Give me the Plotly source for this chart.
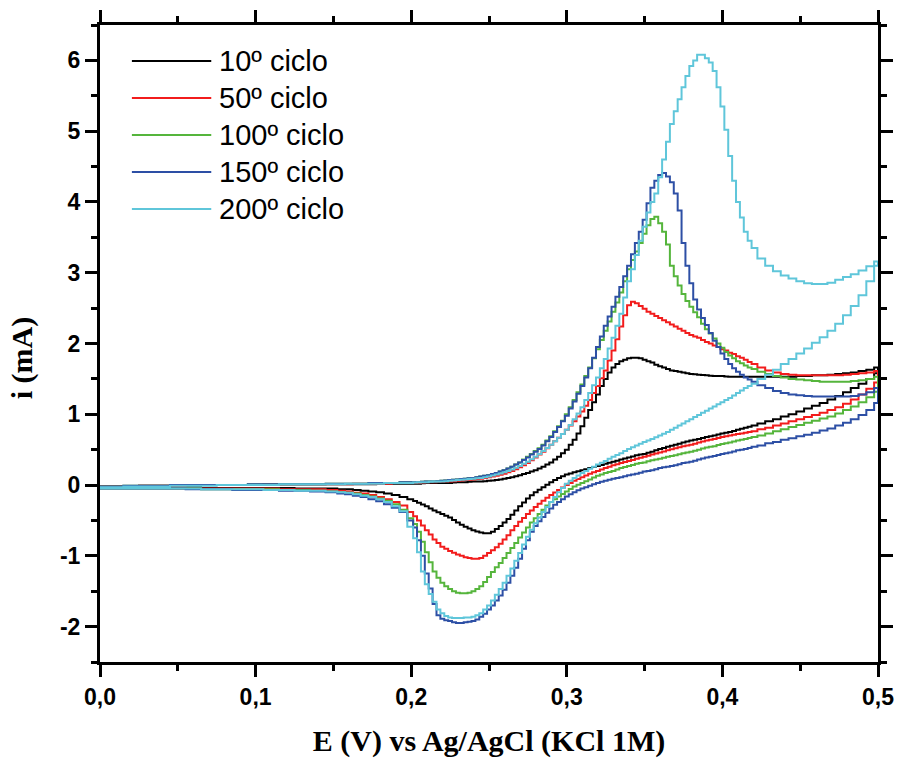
import plotly.graph_objects as go

# Potential grid (V vs Ag/AgCl) on which both scan branches are sampled;
# finer spacing across the reduction and oxidation peaks
E = [0.00, 0.01, 0.02, 0.03, 0.04, 0.05, 0.06, 0.07, 0.08, 0.09, 0.10, 0.11, 0.12, 0.13, 0.14, 0.15,
     0.155, 0.16, 0.165, 0.17, 0.175, 0.18, 0.185, 0.19, 0.195,
     0.20, 0.2025, 0.205, 0.2075, 0.21, 0.2125, 0.215, 0.2175, 0.22, 0.2225,
     0.225, 0.2275, 0.23, 0.2325, 0.235, 0.2375, 0.24, 0.2425, 0.245, 0.2475,
     0.25, 0.2525, 0.255, 0.2575, 0.26, 0.2625, 0.265, 0.2675, 0.27, 0.2725,
     0.275, 0.2775, 0.28, 0.2825, 0.285, 0.2875, 0.29, 0.2925, 0.295, 0.2975, 0.30,
     0.3025, 0.305, 0.3075, 0.31, 0.3125, 0.315, 0.3175, 0.32, 0.3225, 0.325, 0.3275, 0.33,
     0.3325, 0.335, 0.3375, 0.34, 0.3425, 0.345, 0.3475, 0.35, 0.3525, 0.355, 0.3575, 0.36,
     0.3625, 0.365, 0.3675, 0.37, 0.3725, 0.375, 0.3775, 0.38, 0.3825, 0.385, 0.3875, 0.39,
     0.3925, 0.395, 0.3975, 0.40, 0.4025, 0.405, 0.4075, 0.41, 0.4125, 0.415, 0.4175, 0.42,
     0.425, 0.43, 0.435, 0.44, 0.445, 0.45, 0.455, 0.46, 0.465, 0.47, 0.475, 0.48, 0.485, 0.49, 0.495, 0.50]

# Current (mA): anodic sweep (fwd) and return sweep (rev), listed in order of E
fwd_10 = [-0.02, -0.02, -0.02, -0.01, -0.01, -0.01, -0.01, 0.00, 0.00, 0.00, 0.00, 0.00, 0.01, 0.01, 0.01, 0.01,
          0.01, 0.01, 0.01, 0.01, 0.01, 0.02, 0.02, 0.02, 0.02,
          0.02, 0.02, 0.02, 0.025, 0.03, 0.03, 0.03, 0.03, 0.03, 0.03,
          0.03, 0.035, 0.04, 0.04, 0.04, 0.045, 0.05, 0.05, 0.05, 0.055,
          0.06, 0.065, 0.07, 0.08, 0.09, 0.10, 0.11, 0.125, 0.14, 0.155,
          0.17, 0.19, 0.21, 0.235, 0.26, 0.29, 0.32, 0.36, 0.40, 0.45, 0.50,
          0.57, 0.64, 0.73, 0.83, 0.95, 1.06, 1.17, 1.28, 1.40, 1.50, 1.59, 1.66,
          1.71, 1.75, 1.77, 1.79, 1.80, 1.80, 1.79, 1.77, 1.75, 1.73, 1.70, 1.68,
          1.66, 1.64, 1.62, 1.61, 1.60, 1.59, 1.58, 1.57, 1.565, 1.56, 1.555, 1.55,
          1.545, 1.54, 1.54, 1.54, 1.535, 1.53, 1.53, 1.53, 1.53, 1.53, 1.53, 1.53,
          1.53, 1.53, 1.53, 1.53, 1.53, 1.54, 1.54, 1.55, 1.55, 1.56, 1.57, 1.58, 1.59, 1.61, 1.63, 1.66]
rev_10 = [-0.04, -0.04, -0.04, -0.04, -0.04, -0.04, -0.04, -0.04, -0.04, -0.04, -0.04, -0.04, -0.04, -0.05, -0.05, -0.05,
          -0.06, -0.06, -0.07, -0.08, -0.09, -0.10, -0.12, -0.14, -0.17,
          -0.20, -0.225, -0.25, -0.275, -0.30, -0.33, -0.36, -0.385, -0.41, -0.435,
          -0.46, -0.495, -0.53, -0.56, -0.59, -0.615, -0.64, -0.655, -0.67, -0.68,
          -0.68, -0.66, -0.62, -0.58, -0.53, -0.48, -0.42, -0.36, -0.30, -0.245,
          -0.19, -0.145, -0.10, -0.065, -0.03, 0.005, 0.04, 0.07, 0.10, 0.125, 0.15,
          0.165, 0.18, 0.195, 0.21, 0.225, 0.24, 0.255, 0.27, 0.285, 0.30, 0.315, 0.33,
          0.345, 0.36, 0.375, 0.39, 0.405, 0.42, 0.43, 0.44, 0.455, 0.47, 0.49, 0.51,
          0.525, 0.54, 0.555, 0.57, 0.585, 0.60, 0.615, 0.63, 0.64, 0.65, 0.665, 0.68,
          0.69, 0.70, 0.715, 0.73, 0.74, 0.75, 0.765, 0.78, 0.795, 0.81, 0.825, 0.84,
          0.87, 0.90, 0.93, 0.97, 1.00, 1.04, 1.08, 1.12, 1.16, 1.21, 1.26, 1.31, 1.37, 1.43, 1.50, 1.58]

fwd_50 = [-0.02, -0.02, -0.02, -0.01, -0.01, -0.01, 0.00, 0.00, 0.00, 0.00, 0.00, 0.01, 0.01, 0.01, 0.01, 0.01,
          0.01, 0.01, 0.02, 0.02, 0.02, 0.02, 0.02, 0.03, 0.03,
          0.03, 0.03, 0.03, 0.035, 0.04, 0.04, 0.04, 0.045, 0.05, 0.05,
          0.05, 0.055, 0.06, 0.065, 0.07, 0.075, 0.08, 0.085, 0.09, 0.10,
          0.11, 0.12, 0.13, 0.145, 0.16, 0.18, 0.20, 0.225, 0.25, 0.28,
          0.31, 0.35, 0.39, 0.43, 0.47, 0.52, 0.57, 0.62, 0.67, 0.72, 0.78,
          0.84, 0.90, 0.97, 1.04, 1.12, 1.20, 1.30, 1.40, 1.51, 1.62, 1.76, 1.90,
          2.06, 2.24, 2.40, 2.54, 2.59, 2.57, 2.53, 2.49, 2.45, 2.42, 2.39, 2.36,
          2.33, 2.30, 2.27, 2.24, 2.21, 2.18, 2.15, 2.12, 2.10, 2.08, 2.05, 2.02,
          2.00, 1.97, 1.95, 1.92, 1.90, 1.87, 1.85, 1.82, 1.80, 1.77, 1.74, 1.71,
          1.66, 1.62, 1.59, 1.57, 1.56, 1.55, 1.55, 1.55, 1.55, 1.55, 1.55, 1.56, 1.57, 1.58, 1.59, 1.61]
rev_50 = [-0.05, -0.05, -0.05, -0.05, -0.05, -0.05, -0.05, -0.05, -0.05, -0.05, -0.05, -0.05, -0.06, -0.06, -0.06, -0.07,
          -0.08, -0.09, -0.11, -0.12, -0.14, -0.17, -0.20, -0.24, -0.29,
          -0.38, -0.44, -0.50, -0.57, -0.64, -0.70, -0.77, -0.82, -0.87, -0.90,
          -0.93, -0.955, -0.98, -1.00, -1.02, -1.03, -1.04, -1.04, -1.03, -1.00,
          -0.96, -0.92, -0.88, -0.83, -0.77, -0.71, -0.64, -0.58, -0.52, -0.465,
          -0.41, -0.36, -0.31, -0.265, -0.22, -0.18, -0.14, -0.105, -0.07, -0.035, 0.00,
          0.03, 0.06, 0.085, 0.11, 0.135, 0.16, 0.18, 0.20, 0.22, 0.24, 0.26, 0.28,
          0.295, 0.31, 0.325, 0.34, 0.355, 0.37, 0.385, 0.40, 0.415, 0.43, 0.445, 0.46,
          0.475, 0.49, 0.505, 0.52, 0.535, 0.55, 0.56, 0.57, 0.585, 0.60, 0.615, 0.63,
          0.64, 0.65, 0.665, 0.68, 0.69, 0.70, 0.71, 0.72, 0.73, 0.74, 0.75, 0.76,
          0.79, 0.81, 0.84, 0.87, 0.90, 0.93, 0.96, 0.99, 1.02, 1.06, 1.10, 1.15, 1.21, 1.28, 1.36, 1.45]

fwd_100 = [-0.02, -0.02, -0.01, -0.01, -0.01, 0.00, 0.00, 0.00, 0.00, 0.00, 0.01, 0.01, 0.01, 0.01, 0.01, 0.02,
           0.02, 0.02, 0.02, 0.02, 0.03, 0.03, 0.03, 0.03, 0.04,
           0.04, 0.04, 0.04, 0.045, 0.05, 0.05, 0.05, 0.055, 0.06, 0.065,
           0.07, 0.075, 0.08, 0.085, 0.09, 0.095, 0.10, 0.11, 0.12, 0.13,
           0.14, 0.155, 0.17, 0.19, 0.21, 0.235, 0.26, 0.29, 0.32, 0.36,
           0.40, 0.44, 0.48, 0.52, 0.57, 0.63, 0.69, 0.76, 0.83, 0.91, 1.00,
           1.10, 1.20, 1.31, 1.42, 1.54, 1.66, 1.79, 1.92, 2.05, 2.18, 2.31, 2.45,
           2.58, 2.72, 2.88, 3.05, 3.18, 3.30, 3.42, 3.55, 3.67, 3.76, 3.79, 3.70,
           3.58, 3.40, 3.10, 2.95, 2.82, 2.70, 2.60, 2.52, 2.44, 2.37, 2.28, 2.20,
           2.14, 2.07, 2.00, 1.94, 1.88, 1.83, 1.79, 1.75, 1.72, 1.69, 1.66, 1.64,
           1.60, 1.57, 1.54, 1.52, 1.50, 1.49, 1.48, 1.47, 1.46, 1.46, 1.46, 1.46, 1.47, 1.48, 1.50, 1.53]
rev_100 = [-0.05, -0.05, -0.05, -0.05, -0.05, -0.05, -0.05, -0.06, -0.06, -0.06, -0.06, -0.06, -0.07, -0.07, -0.08, -0.09,
           -0.10, -0.11, -0.12, -0.14, -0.16, -0.19, -0.22, -0.27, -0.35,
           -0.47, -0.55, -0.66, -0.80, -0.95, -1.09, -1.22, -1.31, -1.38, -1.43,
           -1.47, -1.50, -1.52, -1.53, -1.53, -1.52, -1.50, -1.47, -1.43, -1.37,
           -1.30, -1.23, -1.16, -1.10, -1.03, -0.96, -0.89, -0.82, -0.74, -0.67,
           -0.60, -0.53, -0.47, -0.41, -0.35, -0.29, -0.24, -0.20, -0.16, -0.125, -0.09,
           -0.055, -0.02, 0.005, 0.03, 0.055, 0.08, 0.105, 0.13, 0.15, 0.17, 0.185, 0.20,
           0.22, 0.24, 0.255, 0.27, 0.285, 0.30, 0.31, 0.32, 0.335, 0.35, 0.36, 0.37,
           0.385, 0.40, 0.41, 0.42, 0.435, 0.45, 0.46, 0.47, 0.485, 0.50, 0.515, 0.53,
           0.54, 0.55, 0.565, 0.58, 0.59, 0.60, 0.615, 0.63, 0.64, 0.65, 0.665, 0.68,
           0.70, 0.73, 0.76, 0.79, 0.82, 0.85, 0.88, 0.91, 0.94, 0.97, 1.01, 1.06, 1.11, 1.17, 1.24, 1.32]

fwd_150 = [-0.02, -0.02, -0.01, -0.01, -0.01, 0.00, 0.00, 0.00, 0.00, 0.00, 0.01, 0.01, 0.01, 0.01, 0.01, 0.02,
           0.02, 0.02, 0.02, 0.02, 0.03, 0.03, 0.03, 0.03, 0.04,
           0.04, 0.04, 0.04, 0.045, 0.05, 0.05, 0.05, 0.055, 0.06, 0.065,
           0.07, 0.075, 0.08, 0.085, 0.09, 0.095, 0.10, 0.11, 0.12, 0.13,
           0.14, 0.155, 0.17, 0.19, 0.21, 0.235, 0.26, 0.29, 0.32, 0.355,
           0.39, 0.43, 0.47, 0.51, 0.56, 0.62, 0.68, 0.75, 0.82, 0.90, 0.98,
           1.08, 1.18, 1.29, 1.40, 1.52, 1.65, 1.80, 1.95, 2.10, 2.25, 2.38, 2.52,
           2.66, 2.80, 2.95, 3.10, 3.26, 3.42, 3.58, 3.75, 3.98, 4.20, 4.30, 4.38,
           4.41, 4.36, 4.28, 4.12, 3.88, 3.42, 3.10, 2.85, 2.62, 2.48, 2.36, 2.26,
           2.15, 2.04, 1.95, 1.86, 1.78, 1.71, 1.65, 1.60, 1.56, 1.52, 1.49, 1.46,
           1.41, 1.37, 1.33, 1.30, 1.28, 1.27, 1.26, 1.25, 1.25, 1.25, 1.25, 1.25, 1.26, 1.28, 1.31, 1.37]
rev_150 = [-0.05, -0.05, -0.05, -0.05, -0.05, -0.05, -0.06, -0.06, -0.06, -0.07, -0.07, -0.07, -0.08, -0.08, -0.09, -0.10,
           -0.12, -0.13, -0.15, -0.17, -0.20, -0.23, -0.27, -0.32, -0.38,
           -0.50, -0.60, -0.78, -1.00, -1.25, -1.46, -1.68, -1.84, -1.89, -1.91,
           -1.92, -1.94, -1.95, -1.95, -1.94, -1.93, -1.92, -1.90, -1.86, -1.82,
           -1.76, -1.70, -1.63, -1.56, -1.48, -1.38, -1.28, -1.17, -1.04, -0.90,
           -0.78, -0.66, -0.58, -0.51, -0.45, -0.39, -0.33, -0.28, -0.24, -0.20, -0.16,
           -0.13, -0.10, -0.075, -0.05, -0.03, -0.01, 0.01, 0.03, 0.045, 0.06, 0.075, 0.09,
           0.10, 0.11, 0.125, 0.14, 0.15, 0.16, 0.175, 0.19, 0.20, 0.21, 0.225, 0.24,
           0.25, 0.26, 0.27, 0.28, 0.295, 0.31, 0.32, 0.33, 0.345, 0.36, 0.375, 0.39,
           0.40, 0.41, 0.425, 0.44, 0.45, 0.46, 0.475, 0.49, 0.50, 0.51, 0.525, 0.54,
           0.56, 0.59, 0.61, 0.64, 0.66, 0.69, 0.71, 0.74, 0.77, 0.80, 0.84, 0.88, 0.93, 0.99, 1.06, 1.16]

fwd_200 = [-0.03, -0.03, -0.02, -0.02, -0.02, -0.01, -0.01, -0.01, 0.00, 0.00, 0.00, 0.00, 0.01, 0.01, 0.01, 0.01,
           0.01, 0.02, 0.02, 0.02, 0.02, 0.02, 0.03, 0.03, 0.03,
           0.03, 0.035, 0.04, 0.04, 0.04, 0.045, 0.05, 0.05, 0.05, 0.055,
           0.06, 0.065, 0.07, 0.075, 0.08, 0.085, 0.09, 0.095, 0.10, 0.11,
           0.12, 0.135, 0.15, 0.165, 0.18, 0.20, 0.22, 0.245, 0.27, 0.30,
           0.33, 0.365, 0.40, 0.44, 0.48, 0.525, 0.57, 0.62, 0.67, 0.72, 0.78,
           0.85, 0.93, 1.01, 1.10, 1.20, 1.30, 1.41, 1.52, 1.65, 1.78, 1.93, 2.08,
           2.25, 2.42, 2.65, 2.88, 3.05, 3.25, 3.45, 3.65, 3.85, 4.00, 4.12, 4.35,
           4.60, 4.85, 5.10, 5.28, 5.45, 5.62, 5.78, 5.92, 6.00, 6.08, 6.08, 6.03,
           5.97, 5.85, 5.62, 5.35, 5.02, 4.65, 4.30, 4.00, 3.78, 3.58, 3.45, 3.35,
           3.20, 3.10, 3.02, 2.96, 2.92, 2.88, 2.85, 2.84, 2.84, 2.86, 2.90, 2.94, 2.98, 3.03, 3.09, 3.16]
rev_200 = [-0.05, -0.05, -0.05, -0.05, -0.05, -0.05, -0.05, -0.06, -0.06, -0.06, -0.06, -0.07, -0.07, -0.08, -0.08, -0.09,
           -0.10, -0.11, -0.13, -0.15, -0.17, -0.20, -0.24, -0.30, -0.37,
           -0.59, -0.75, -0.95, -1.22, -1.40, -1.54, -1.65, -1.76, -1.81, -1.85,
           -1.87, -1.88, -1.88, -1.88, -1.87, -1.87, -1.86, -1.84, -1.81, -1.76,
           -1.70, -1.63, -1.55, -1.47, -1.38, -1.28, -1.18, -1.07, -0.96, -0.84,
           -0.73, -0.63, -0.54, -0.46, -0.38, -0.31, -0.24, -0.17, -0.10, -0.04, 0.02,
           0.06, 0.10, 0.135, 0.17, 0.20, 0.23, 0.26, 0.29, 0.315, 0.34, 0.37, 0.40,
           0.425, 0.45, 0.48, 0.51, 0.535, 0.56, 0.585, 0.61, 0.63, 0.65, 0.675, 0.70,
           0.725, 0.75, 0.78, 0.81, 0.84, 0.87, 0.90, 0.93, 0.96, 0.99, 1.02, 1.05,
           1.08, 1.11, 1.14, 1.17, 1.20, 1.23, 1.265, 1.30, 1.335, 1.37, 1.40, 1.43,
           1.50, 1.56, 1.63, 1.71, 1.78, 1.86, 1.93, 2.01, 2.09, 2.18, 2.28, 2.40, 2.53, 2.68, 2.88, 3.10]

cycle_labels = ["10º ciclo", "50º ciclo", "100º ciclo", "150º ciclo", "200º ciclo"]
forward_sweeps = [fwd_10, fwd_50, fwd_100, fwd_150, fwd_200]
return_sweeps = [rev_10, rev_50, rev_100, rev_150, rev_200]
line_colors = ["#000000", "#f21c1c", "#55b53c", "#2d4fa5", "#5fc6da"]

x_tickvals = [0.0, 0.1, 0.2, 0.3, 0.4, 0.5]
x_ticktext = ["0,0", "0,1", "0,2", "0,3", "0,4", "0,5"]
y_tickvals = [-2, -1, 0, 1, 2, 3, 4, 5, 6]
y_ticktext = ["-2", "-1", "0", "1", "2", "3", "4", "5", "6"]

fig = go.Figure()
for label, fwd, rev, color in zip(cycle_labels, forward_sweeps, return_sweeps, line_colors):
    assert len(fwd) == len(E) and len(rev) == len(E), (label, len(fwd), len(rev), len(E))
    # closed voltammogram: anodic sweep up to 0.5 V, then back down to 0 V,
    # drawn as a staircase centred on each potential step
    fig.add_trace(go.Scatter(
        x=E + E[::-1],
        y=fwd + rev[::-1],
        mode="lines",
        name=label,
        line=dict(color=color, width=2, shape="hvh"),
        showlegend=False,
    ))

# legend drawn as line samples + labels in the upper-left corner of the plot
row_top, row_step = 0.9435, 0.0581
for k, (label, color) in enumerate(zip(cycle_labels, line_colors)):
    yk = row_top - k * row_step
    fig.add_shape(type="line", xref="paper", yref="paper",
                  x0=0.041, x1=0.143, y0=yk, y1=yk,
                  line=dict(color=color, width=2))
    fig.add_annotation(xref="paper", yref="paper", x=0.150, y=yk,
                       xanchor="left", yanchor="middle", showarrow=False,
                       text=label,
                       font=dict(family="Liberation Sans, Arial, sans-serif", size=29, color="black"))

tick_font = dict(family="Liberation Sans, Arial, sans-serif", size=23, color="black", weight="bold")
title_font = dict(family="Liberation Serif, Times New Roman, serif", size=30, color="black", weight="bold")

common_axis = dict(
    showline=True, linewidth=3, linecolor="black", mirror="ticks",
    ticks="outside", ticklen=12, tickwidth=3, tickcolor="black",
    showgrid=False, zeroline=False, tickfont=tick_font, automargin=False,
)

fig.update_xaxes(
    range=[0, 0.5], tickmode="array", tickvals=x_tickvals, ticktext=x_ticktext,
    minor=dict(tickmode="linear", tick0=0, dtick=0.05, ticks="outside", ticklen=6,
               tickwidth=3, tickcolor="black", showgrid=False),
    title=dict(text="E (V) vs Ag/AgCl (KCl 1M)", font=title_font, standoff=22),
    **common_axis,
)
fig.update_yaxes(
    range=[-2.5, 6.5], tickmode="array", tickvals=y_tickvals, ticktext=y_ticktext,
    minor=dict(tickmode="linear", tick0=-2.5, dtick=0.5, ticks="outside", ticklen=6,
               tickwidth=3, tickcolor="black", showgrid=False),
    **common_axis,
)

# current axis title, placed to the left of the tick labels
fig.add_annotation(xref="paper", yref="paper", x=-0.100, y=0.477,
                   xanchor="center", yanchor="middle", showarrow=False,
                   textangle=-90, text="i (mA)", font=title_font)

fig.update_layout(
    width=900, height=758,
    margin=dict(l=100, r=22, t=25, b=96),
    plot_bgcolor="white", paper_bgcolor="white",
    showlegend=False,
)

fig.write_html("out.html")
